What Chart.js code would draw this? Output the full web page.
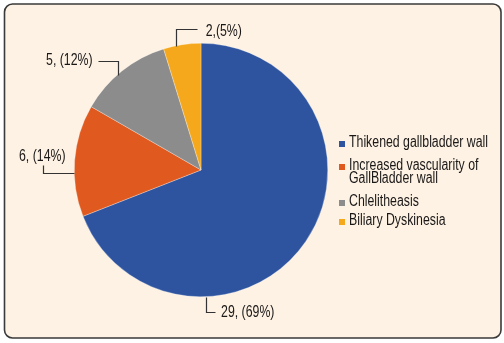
<!DOCTYPE html>
<html>
<head>
<meta charset="utf-8">
<script src="https://cdn.jsdelivr.net/npm/chart.js@4/dist/chart.umd.min.js"></script>
<style>
  html, body { margin: 0; padding: 0; background: #ffffff; }
  canvas { display: block; }
</style>
</head>
<body>
<canvas id="chart" width="504" height="343"></canvas>
<script>
// Findings and their patient counts
const categories = [
  'Thikened gallbladder wall',
  ['Increased vascularity of', 'GallBladder wall'],
  'Chlelitheasis',
  'Biliary Dyskinesia'
];
const counts = [29, 6, 5, 2];
const sliceColors = ['#2e54a0', '#e05a1f', '#8c8c8c', '#f5a81b'];
// separator between count and percentage in each callout
const labelSeparators = [', ', ', ', ', ', ','];

const FONT = '16px "Liberation Sans", Arial, sans-serif';
const X_SCALE = 0.77;          // narrow face: horizontal squeeze of the sans font
const TEXT_COLOR = '#1a1717';

// Callout placement: where on the slice edge the leader starts (fraction of the arc),
// the leader's bends relative to that point, and where the text baseline sits.
const callouts = [
  { at: 0.715, path: [[0, 0], [0, 15], [9, 15]],     text: [15, 20],    align: 'left' },
  { at: 0.39,  path: [[0, 0], [-31, 0], [-31, -8]],  text: [-32, -12],  align: 'center' },
  { at: 0.44,  path: [[0, 0], [0, -14], [-20, -14]], text: [-25, -10],  align: 'right' },
  { at: 0.34,  path: [[0, 0], [0, -17], [21, -17]],  text: [29.5, -10], align: 'left' }
];

// legend rows: first baseline, line spacing inside a row, gaps between rows
const legendX = 339, legendTextX = 349, legendTop = 147, legendLine = 13;
const legendGaps = [22.5, 23, 19];

function condensedText(ctx, txt, x, y, align) {
  ctx.save();
  ctx.translate(x, y);
  ctx.scale(X_SCALE, 1);
  ctx.font = FONT;
  ctx.textAlign = align;
  ctx.textBaseline = 'alphabetic';
  ctx.fillStyle = TEXT_COLOR;
  ctx.fillText(txt, 0, 0);
  ctx.restore();
}

const framePlugin = {
  id: 'frame',
  beforeDraw(chart) {
    const ctx = chart.ctx;
    const x = 4.5, y = 4, w = 496.5, h = 334, r = 8;
    ctx.save();
    ctx.beginPath();
    ctx.moveTo(x + r, y);
    ctx.arcTo(x + w, y, x + w, y + h, r);
    ctx.arcTo(x + w, y + h, x, y + h, r);
    ctx.arcTo(x, y + h, x, y, r);
    ctx.arcTo(x, y, x + w, y, r);
    ctx.closePath();
    ctx.fillStyle = '#fdf2e3';
    ctx.fill();
    ctx.lineWidth = 1.6;
    ctx.strokeStyle = '#3a3a3a';
    ctx.stroke();
    ctx.restore();
  }
};

const calloutPlugin = {
  id: 'callouts',
  afterDatasetsDraw(chart) {
    const ctx = chart.ctx;
    const meta = chart.getDatasetMeta(0);
    const values = chart.data.datasets[0].data;
    const total = values.reduce((a, b) => a + b, 0);
    ctx.save();
    meta.data.forEach((arc, i) => {
      const p = arc.getProps(['x', 'y', 'startAngle', 'endAngle', 'outerRadius'], true);
      const c = callouts[i];
      const ang = p.startAngle + (p.endAngle - p.startAngle) * c.at;
      const ax = p.x + Math.cos(ang) * p.outerRadius;
      const ay = p.y + Math.sin(ang) * p.outerRadius;
      ctx.beginPath();
      c.path.forEach(([dx, dy], k) => {
        const px = Math.round(ax + dx) + 0.5, py = Math.round(ay + dy) + 0.5;
        if (k === 0) ctx.moveTo(px, py); else ctx.lineTo(px, py);
      });
      ctx.lineWidth = 1.2;
      ctx.strokeStyle = '#333333';
      ctx.stroke();
      const pct = Math.round(values[i] / total * 100);
      const txt = values[i] + labelSeparators[i] + '(' + pct + '%)';
      condensedText(ctx, txt, ax + c.text[0], ay + c.text[1], c.align);
    });
    ctx.restore();
  }
};

const legendPlugin = {
  id: 'sideLegend',
  afterDraw(chart) {
    const ctx = chart.ctx;
    const labels = chart.data.labels;
    const colors = chart.data.datasets[0].backgroundColor;
    let y = legendTop;
    labels.forEach((lab, i) => {
      const lines = Array.isArray(lab) ? lab : [lab];
      ctx.fillStyle = colors[i];
      ctx.fillRect(legendX, Math.round(y) - 6, 6, 6);
      lines.forEach((ln, k) => condensedText(ctx, ln, legendTextX, y + k * legendLine, 'left'));
      y += (lines.length - 1) * legendLine + (legendGaps[i] || 0);
    });
  }
};

new Chart(document.getElementById('chart'), {
  type: 'pie',
  data: {
    labels: categories,
    datasets: [{
      data: counts,
      backgroundColor: sliceColors,
      borderColor: 'rgba(255,255,255,0.6)',
      borderWidth: 0.5
    }]
  },
  options: {
    responsive: false,
    animation: false,
    rotation: 0,
    layout: { padding: { left: 74, right: 176, top: 43, bottom: 46 } },
    plugins: {
      legend: { display: false },
      tooltip: { enabled: false }
    }
  },
  plugins: [framePlugin, calloutPlugin, legendPlugin]
});
</script>
</body>
</html>
